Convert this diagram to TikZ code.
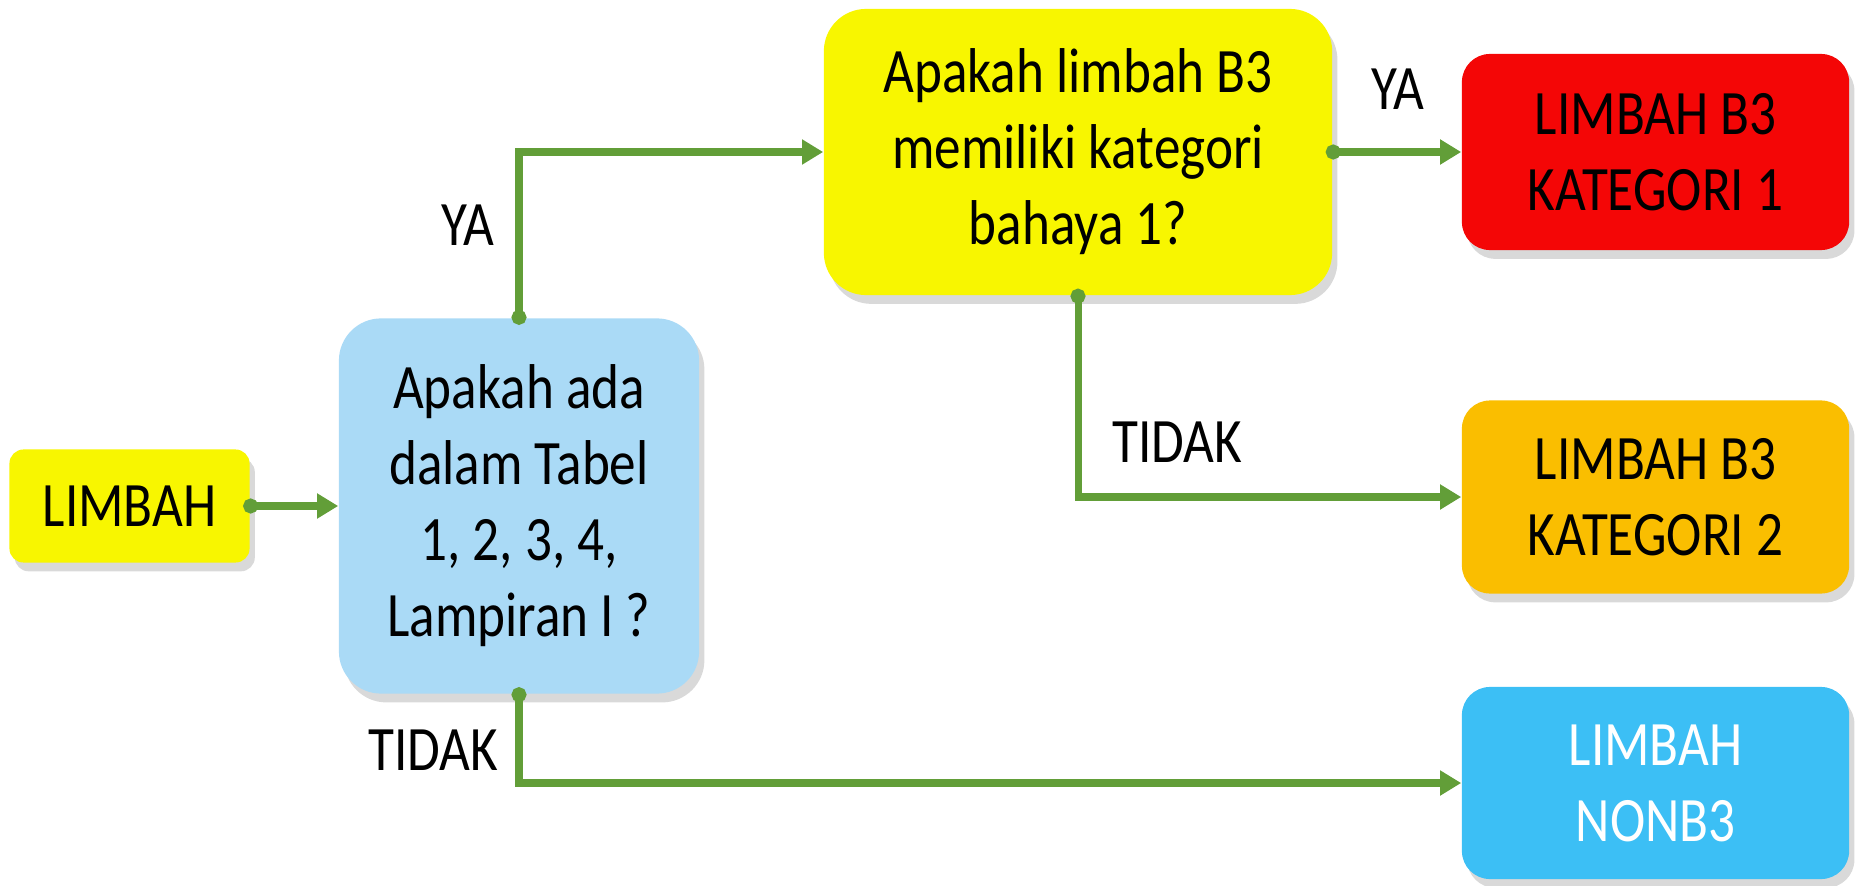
\documentclass[tikz,border=0pt]{standalone}
\usepackage{fontspec}
\setmainfont{Carlito}[FakeStretch=0.84]
\usetikzlibrary{arrows.meta,shadows}

\definecolor{limbahyellow}{RGB}{248,246,0}
\definecolor{tabelblue}{RGB}{170,218,246}
\definecolor{katred}{RGB}{244,6,6}
\definecolor{katorange}{RGB}{250,190,0}
\definecolor{nonbcyan}{RGB}{60,191,245}
\definecolor{flowgreen}{RGB}{98,158,56}

\begin{document}
\begin{tikzpicture}[x=0.01cm,y=-0.01cm,
    box/.style={align=center,inner sep=0pt,font=\fontsize{18pt}{21.6pt}\selectfont,
        drop shadow={opacity=0.3,shadow xshift=1.5pt,shadow yshift=-2.5pt}},
    flow/.style={line width=2pt,draw=flowgreen,shorten <=-2pt,
        {Circle[length=4.2pt]}-{Triangle[length=6pt,width=6.8pt]}},
    lbl/.style={font=\fontsize{18pt}{21.6pt}\selectfont}]
    \useasboundingbox (0,0) rectangle (1858,885);

    % Start and first question
    \node[box,fill=limbahyellow,rounded corners=4pt,minimum width=2.40cm,minimum height=1.13cm] (limbah) at (129.5,506) {LIMBAH};
    \node[box,fill=tabelblue,rounded corners=12pt,minimum width=3.60cm,minimum height=3.75cm] (tabel) at (519,506) {Apakah ada\\dalam Tabel\\1, 2, 3, 4,\\Lampiran I ?};

    % Second question
    \node[box,fill=limbahyellow,rounded corners=12pt,minimum width=5.08cm,minimum height=2.86cm] (bahaya) at (1078,152) {Apakah limbah B3\\memiliki kategori\\bahaya 1?};

    % Results
    \node[box,fill=katred,rounded corners=8pt,minimum width=3.87cm,minimum height=1.96cm] (kat1) at (1655.5,152) {LIMBAH B3\\KATEGORI 1};
    \node[box,fill=katorange,rounded corners=8pt,minimum width=3.87cm,minimum height=1.93cm] (kat2) at (1655.5,497) {LIMBAH B3\\KATEGORI 2};
    \node[box,fill=nonbcyan,text=white,rounded corners=8pt,minimum width=3.87cm,minimum height=1.92cm] (nonb3) at (1655.5,783) {LIMBAH\\NONB3};

    % Connectors
    \draw[flow] (limbah.east) -- (tabel.west);
    \draw[flow] (tabel.north) |- (bahaya.west);
    \draw[flow] (bahaya.east) -- (kat1.west);
    \draw[flow] (bahaya.south) |- (kat2.west);
    \draw[flow] (tabel.south) |- (nonb3.west);

    % Branch labels
    \node[lbl] (yatabel) at (468,225) {YA};
    \node[lbl] (yabahaya) at (1398,89) {YA};
    \node[lbl] (tidakbahaya) at (1177,442) {TIDAK};
    \node[lbl] (tidaktabel) at (433,750) {TIDAK};
\end{tikzpicture}
\end{document}
